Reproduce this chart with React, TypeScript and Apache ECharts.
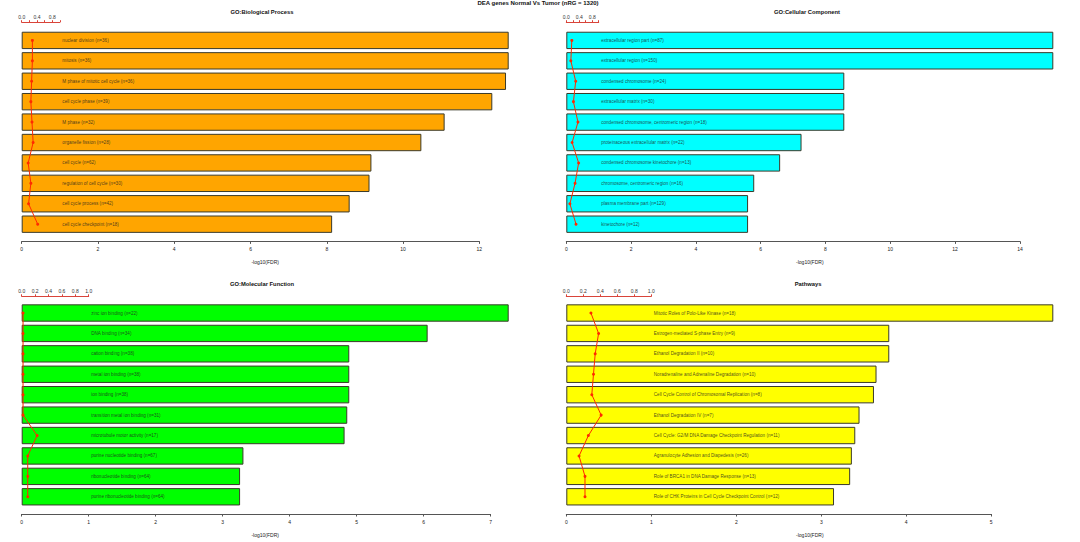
import { useEffect, useRef } from "react";
import * as echarts from "echarts";

const MAIN_TITLE = "DEA genes Normal Vs Tumor (nRG = 1320)";
const AXIS_NAME = "-log10(FDR)";

// GO: Biological Process
const bpTitle = "GO:Biological Process";
const bpTerms = ["nuclear division", "mitosis", "M phase of mitotic cell cycle", "cell cycle phase", "M phase", "organelle fission", "cell cycle", "regulation of cell cycle", "cell cycle process", "cell cycle checkpoint"];
const bpCounts = [36, 36, 36, 39, 32, 28, 62, 30, 42, 18];
const bpLogFDR = [12.77, 12.77, 12.7, 12.34, 11.09, 10.48, 9.17, 9.12, 8.6, 8.14];
const bpRatio = [0.28, 0.28, 0.26, 0.24, 0.27, 0.3, 0.17, 0.24, 0.18, 0.42];
const bpTickMax = 12;
const bpTickStep = 2;

// GO: Cellular Component
const ccTitle = "GO:Cellular Component";
const ccTerms = ["extracellular region part", "extracellular region", "condensed chromosome", "extracellular matrix", "condensed chromosome, centromeric region", "proteinaceous extracellular matrix", "condensed chromosome kinetochore", "chromosome, centromeric region", "plasma membrane part", "kinetochore"];
const ccCounts = [87, 150, 24, 30, 18, 22, 13, 16, 129, 12];
const ccLogFDR = [15.03, 15.03, 8.58, 8.58, 8.58, 7.26, 6.6, 5.8, 5.61, 5.61];
const ccRatio = [0.17, 0.14, 0.29, 0.22, 0.36, 0.18, 0.38, 0.27, 0.11, 0.3];
const ccTickMax = 14;
const ccTickStep = 2;

// GO: Molecular Function
const mfTitle = "GO:Molecular Function";
const mfTerms = ["zinc ion binding", "DNA binding", "cation binding", "metal ion binding", "ion binding", "transition metal ion binding", "microtubule motor activity", "purine nucleotide binding", "ribonucleotide binding", "purine ribonucleotide binding"];
const mfCounts = [22, 34, 38, 38, 38, 31, 17, 67, 64, 64];
const mfLogFDR = [7.27, 6.06, 4.89, 4.89, 4.89, 4.86, 4.82, 3.31, 3.26, 3.26];
const mfRatio = [0.02, 0.02, 0.02, 0.02, 0.02, 0.02, 0.23, 0.09, 0.09, 0.09];
const mfTickMax = 7;
const mfTickStep = 1;

// Pathways
const pwTitle = "Pathways";
const pwTerms = ["Mitotic Roles of Polo-Like Kinase", "Estrogen-mediated S-phase Entry", "Ethanol Degradation II", "Noradrenaline and Adrenaline Degradation", "Cell Cycle Control of Chromosomal Replication", "Ethanol Degradation IV", "Cell Cycle: G2/M DNA Damage Checkpoint Regulation", "Agranulocyte Adhesion and Diapedesis", "Role of BRCA1 in DNA Damage Response", "Role of CHK Proteins in Cell Cycle Checkpoint Control"];
const pwCounts = [18, 9, 10, 10, 8, 7, 11, 26, 13, 12];
const pwLogFDR = [5.73, 3.8, 3.8, 3.65, 3.62, 3.45, 3.4, 3.36, 3.34, 3.15];
const pwRatio = [0.29, 0.38, 0.34, 0.32, 0.3, 0.41, 0.26, 0.15, 0.22, 0.22];
const pwTickMax = 5;
const pwTickStep = 1;

const MINI_MAX = 1;
const MINI_STEP = 0.2;

type Panel = {
  title: string;
  terms: string[];
  counts: number[];
  logFDR: number[];
  ratio: number[];
  tickMax: number;
  tickStep: number;
  color: string;
  left: number;
  top: number;
  titleX: number;
  titleY: number;
  miniOffset: number;
  miniEvery: number;
};

const panels: Panel[] = [
  { title: bpTitle, terms: bpTerms, counts: bpCounts, logFDR: bpLogFDR, ratio: bpRatio, tickMax: bpTickMax, tickStep: bpTickStep, color: "#FFA500", left: 21.7, top: 30.2, titleX: 262, titleY: 11.7, miniOffset: 8, miniEvery: 2 },
  { title: ccTitle, terms: ccTerms, counts: ccCounts, logFDR: ccLogFDR, ratio: ccRatio, tickMax: ccTickMax, tickStep: ccTickStep, color: "#00FFFF", left: 566.3, top: 30.2, titleX: 807, titleY: 11.7, miniOffset: 8, miniEvery: 2 },
  { title: mfTitle, terms: mfTerms, counts: mfCounts, logFDR: mfLogFDR, ratio: mfRatio, tickMax: mfTickMax, tickStep: mfTickStep, color: "#00FF00", left: 21.7, top: 302.8, titleX: 262, titleY: 284.3, miniOffset: 6.5, miniEvery: 1 },
  { title: pwTitle, terms: pwTerms, counts: pwCounts, logFDR: pwLogFDR, ratio: pwRatio, tickMax: pwTickMax, tickStep: pwTickStep, color: "#FFFF00", left: 566.3, top: 302.8, titleX: 808, titleY: 284.3, miniOffset: 6.5, miniEvery: 1 },
];

const GRID_W = 487;
const GRID_H = 204.2;
const FONT = "'Liberation Sans', Arial, Helvetica, sans-serif";

function buildOption() {
  const grid: any[] = [];
  const xAxis: any[] = [];
  const yAxis: any[] = [];
  const series: any[] = [];
  const graphic: any[] = [
    { type: "text", x: 538, y: 2.5, style: { text: MAIN_TITLE, font: `bold 6px ${FONT}`, fill: "#111", textAlign: "center", textVerticalAlign: "middle" } },
  ];

  panels.forEach((p, i) => {
    const xMax = Math.max(...p.logFDR);
    const gMain = 3 * i;
    const gAxis = 3 * i + 1;
    const gMini = 3 * i + 2;
    grid.push({ left: p.left, top: p.top, width: GRID_W, height: GRID_H, containLabel: false });
    grid.push({ left: p.left, top: p.top, width: (GRID_W * p.tickMax) / xMax, height: GRID_H, containLabel: false });
    grid.push({ left: p.left, top: p.top, width: (GRID_W * MINI_MAX) / xMax, height: GRID_H, containLabel: false });

    xAxis.push({
      gridIndex: gMain, type: "value", min: 0, max: xMax,
      axisLine: { show: false }, axisTick: { show: false }, axisLabel: { show: false }, splitLine: { show: false },
      name: AXIS_NAME, nameLocation: "middle", nameGap: 25,
      nameTextStyle: { fontSize: 5, color: "#222", fontFamily: FONT },
    });
    xAxis.push({
      gridIndex: gAxis, type: "value", min: 0, max: p.tickMax, interval: p.tickStep, offset: 7,
      axisLine: { show: true, lineStyle: { color: "#555", width: 1 } },
      axisTick: { show: true, length: 2.5, lineStyle: { color: "#555", width: 1 } },
      axisLabel: { fontSize: 5, color: "#222", margin: 5, fontFamily: FONT },
      splitLine: { show: false },
    });
    xAxis.push({
      gridIndex: gMini, type: "value", position: "top", min: 0, max: MINI_MAX, interval: MINI_STEP, offset: p.miniOffset,
      axisLine: { show: true, lineStyle: { color: "#d9443a", width: 1 } },
      axisTick: { show: true, length: 2, lineStyle: { color: "#d9443a", width: 1 } },
      axisLabel: {
        fontSize: 5, color: "#333", margin: 3, fontFamily: FONT,
        formatter: (v: number) => (Math.round(v / MINI_STEP) % p.miniEvery === 0 ? v.toFixed(1) : ""),
      },
      splitLine: { show: false },
    });
    [gMain, gAxis, gMini].forEach((g) => {
      yAxis.push({ gridIndex: g, type: "category", data: p.terms, inverse: true, show: false });
    });

    series.push({
      type: "bar", xAxisIndex: gMain, yAxisIndex: gMain,
      data: p.logFDR, barCategoryGap: "15%",
      itemStyle: { color: p.color, borderColor: "#3a3a2a", borderWidth: 1 },
      z: 2,
    });
    series.push({
      type: "line", xAxisIndex: gMini, yAxisIndex: gMini,
      data: p.ratio.map((r, k) => [r, p.terms[k]]),
      symbol: "circle", symbolSize: 3,
      lineStyle: { color: "#ff2a00", width: 1 },
      itemStyle: { color: "#ff2a00" },
      z: 4,
    });
    series.push({
      type: "scatter", xAxisIndex: gMini, yAxisIndex: gMini,
      data: p.terms.map((t) => [MINI_MAX, t]),
      symbolSize: 0,
      label: {
        show: true, position: "right", distance: 2.5,
        fontSize: 4.6, color: "#222", fontFamily: FONT,
        formatter: (d: any) => `${p.terms[d.dataIndex]} (n=${p.counts[d.dataIndex]})`,
      },
      z: 3,
    });

    graphic.push({
      type: "text", x: p.titleX, y: p.titleY,
      style: { text: p.title, font: `bold 5.8px ${FONT}`, fill: "#111", textAlign: "center", textVerticalAlign: "middle" },
    });
  });

  return {
    animation: false,
    backgroundColor: "#ffffff",
    textStyle: { fontFamily: FONT },
    grid, xAxis, yAxis, series, graphic,
  };
}

export default function App() {
  const ref = useRef<HTMLDivElement>(null);
  useEffect(() => {
    if (!ref.current) return;
    const chart = echarts.init(ref.current, undefined, { renderer: "svg" });
    chart.setOption(buildOption() as any);
    return () => chart.dispose();
  }, []);
  return (
    <div
      ref={ref}
      style={{ position: "fixed", left: 0, top: 0, width: 1080, height: 542, background: "#fff" }}
    />
  );
}
